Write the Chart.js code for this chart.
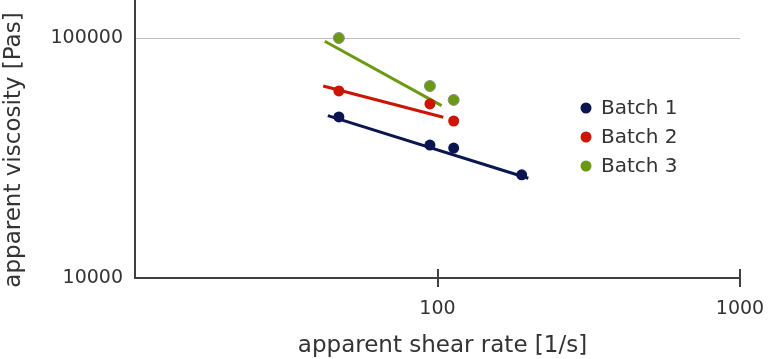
<!DOCTYPE html>
<html><head><meta charset="utf-8">
<script src="https://cdn.jsdelivr.net/npm/chart.js@4"></script>
<style>html,body{margin:0;padding:0;background:#fff}</style>
</head><body>
<canvas id="c" width="768" height="359"></canvas>
<script>
const batchNames = ['Batch 1', 'Batch 2', 'Batch 3'];
const batchColors = ['#0b1650', '#cc1400', '#6b9a12'];

const shearRate1 = [47.2, 94.4, 113.1, 189.8];
const viscosity1 = [46900, 35800, 34800, 26900];
const shearRate2 = [47.2, 94.4, 113.1];
const viscosity2 = [60200, 53100, 45100];
const shearRate3 = [47.2, 94.4, 113.1];
const viscosity3 = [100000, 63100, 55200];

const fitX1 = [43.4, 199.6];
const fitY1 = [47460, 26030];
const fitX2 = [41.9, 104.5];
const fitY2 = [63100, 46730];
const fitX3 = [42.4, 103.2];
const fitY3 = [96900, 52240];

const xTicks = [100, 1000];
const yTicks = [10000, 100000];
const xMin = 10, xMax = 1000;
const yMin = 10000, yMax = 144000;

const xTitle = 'apparent shear rate [1/s]';
const yTitle = 'apparent viscosity [Pas]';

const FONT = "'DejaVu Sans', Verdana, sans-serif";
const TEXT = '#333333';
const AXIS = '#404040';

function pts(xs, ys) { return xs.map((x, i) => ({ x: x, y: ys[i] })); }

const pointSets = [pts(shearRate1, viscosity1), pts(shearRate2, viscosity2), pts(shearRate3, viscosity3)];
const fitSets = [pts(fitX1, fitY1), pts(fitX2, fitY2), pts(fitX3, fitY3)];

const datasets = [];
pointSets.forEach((d, i) => {
  datasets.push({
    type: 'scatter', label: batchNames[i], data: d, order: 0,
    backgroundColor: batchColors[i],
    borderColor: i === 2 ? '#8a8f84' : batchColors[i],
    borderWidth: i === 2 ? 1 : 0,
    pointRadius: 5.5, showLine: false
  });
});
fitSets.forEach((d, i) => {
  datasets.push({
    type: 'line', label: batchNames[i] + ' fit', data: d, order: 1,
    borderColor: batchColors[i], borderWidth: 3, pointRadius: 0,
    fill: false, tension: 0, borderCapStyle: 'butt'
  });
});

const decorPlugin = {
  id: 'decor',
  afterDraw(chart) {
    const ctx = chart.ctx;
    const xs = chart.scales.x, ys = chart.scales.y;
    const axisY = ys.getPixelForValue(yMin);
    ctx.save();
    ctx.strokeStyle = AXIS; ctx.lineWidth = 2;
    xTicks.forEach(v => {
      const px = Math.round(xs.getPixelForValue(v));
      ctx.beginPath(); ctx.moveTo(px, axisY - 9); ctx.lineTo(px, axisY + 9); ctx.stroke();
    });
    ctx.fillStyle = TEXT;
    ctx.font = '23px ' + FONT;
    ctx.textAlign = 'center'; ctx.textBaseline = 'alphabetic';
    ctx.fillText(xTitle, 442.5, 351.5);
    ctx.translate(20, 150); ctx.rotate(-Math.PI / 2);
    ctx.fillText(yTitle, 0, 0);
    ctx.restore();
    ctx.save();
    ctx.font = '20px ' + FONT; ctx.textAlign = 'left'; ctx.textBaseline = 'middle';
    batchNames.forEach((name, i) => {
      const cy = 108 + 29 * i;
      ctx.fillStyle = batchColors[i];
      ctx.beginPath(); ctx.arc(586, cy, 5.5, 0, Math.PI * 2); ctx.fill();
      ctx.fillStyle = TEXT;
      ctx.fillText(name, 601, cy + 1);
    });
    ctx.restore();
  }
};

new Chart(document.getElementById('c'), {
  data: { datasets: datasets },
  options: {
    responsive: false, animation: false, devicePixelRatio: 1,
    layout: { autoPadding: false, padding: { left: 0, right: 28, top: 0, bottom: 0 } },
    plugins: { legend: { display: false }, tooltip: { enabled: false } },
    scales: {
      x: {
        type: 'logarithmic', min: xMin, max: xMax, position: 'bottom', bounds: 'data',
        afterBuildTicks: s => { s.ticks = xTicks.map(v => ({ value: v })); },
        afterFit: s => { s.height = 81; s.paddingLeft = 0; s.paddingRight = 0; },
        grid: { display: false },
        border: { display: true, color: AXIS, width: 2 },
        ticks: { color: TEXT, font: { family: FONT, size: 19 }, padding: 12, maxRotation: 0, autoSkip: false,
                 callback: v => String(v) }
      },
      y: {
        type: 'logarithmic', min: yMin, max: yMax, position: 'left', bounds: 'data',
        afterBuildTicks: s => { s.ticks = yTicks.map(v => ({ value: v })); },
        afterFit: s => { s.width = 135; s.paddingTop = 0; s.paddingBottom = 0; },
        grid: { display: true, drawTicks: false, tickLength: 0, lineWidth: 1,
                color: c => (c.tick && c.tick.value === yTicks[1]) ? '#bdbdbd' : 'rgba(0,0,0,0)' },
        border: { display: true, color: AXIS, width: 2 },
        ticks: { color: TEXT, font: { family: FONT, size: 19 }, padding: 12, autoSkip: false,
                 callback: v => String(v) }
      }
    }
  },
  plugins: [decorPlugin]
});
</script>
</body></html>
